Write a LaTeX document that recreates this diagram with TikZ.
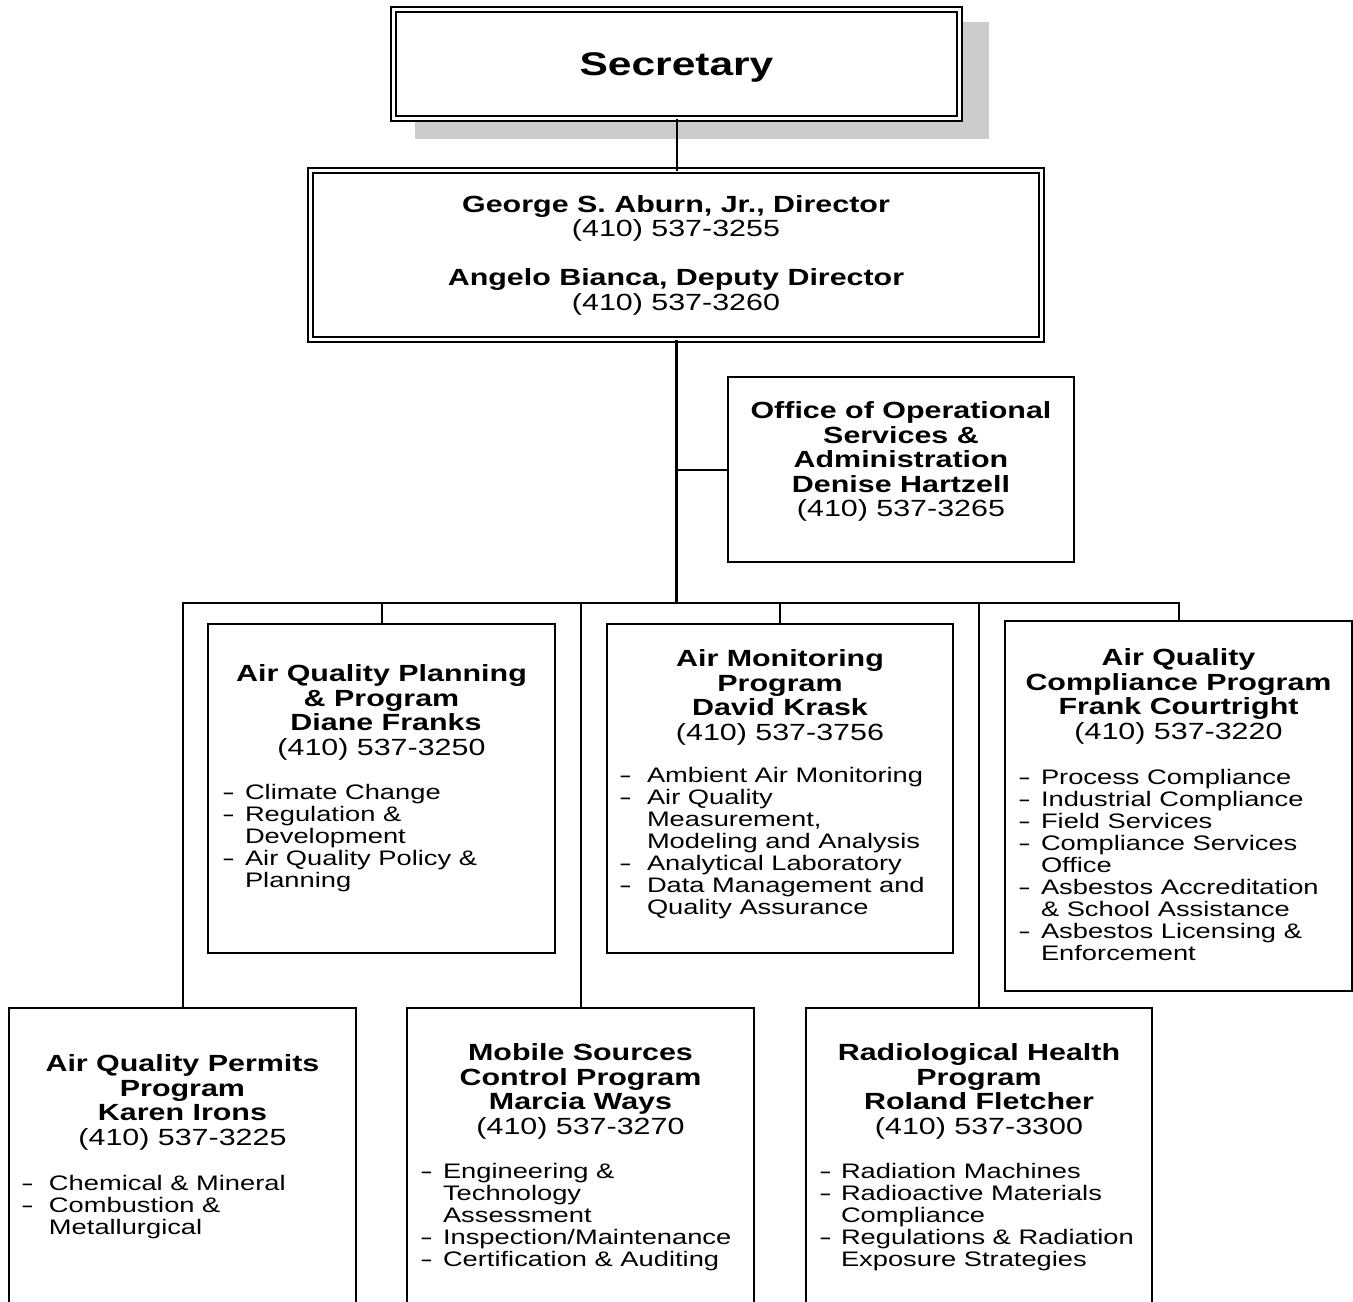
\documentclass[tikz,border=0pt]{standalone}
\usepackage{fontspec}
\setmainfont{Liberation Sans}[FakeStretch=1.3]
\newcommand{\bitem}[2]{\makebox[#1pt][l]{\scalebox{1.4}[1]{-}}#2}
\newcommand{\bcont}[2]{\hspace*{#1pt}#2}
\tikzset{
  box/.style={draw, line width=2pt, fill=white, inner sep=0pt, outer sep=0pt, anchor=north west},
  dbox/.style={draw, line width=1.5pt, double, double distance=3.5pt, fill=white, inner sep=0pt, outer sep=0pt, anchor=north west},
  head/.style={inner sep=0pt, outer sep=0pt, anchor=north, align=center, font=\fontsize{23.4}{24.5}\selectfont},
  blist/.style={inner sep=0pt, outer sep=0pt, anchor=north west, align=left, font=\fontsize{21}{22}\selectfont},
  conn/.style={line width=2pt},
  trunk/.style={line width=3pt},
  shadowfill/.style={fill=black!20},
}
\begin{document}
\begin{tikzpicture}[x=1pt, y=-1pt]
\useasboundingbox (0,0) rectangle (1353,1302);
\fill[white] (0,0) rectangle (1353,1302);
\clip (0,0) rectangle (1353,1302);

% shadow of the Secretary box
\fill[shadowfill] (415,22) rectangle (989,139);

% top boxes
\node[dbox, minimum width=566pt, minimum height=109pt, text depth=0pt,
      font=\bfseries\fontsize{32.7}{34}\selectfont] (sec) at (393.5,9.5) {Secretary};
\node[dbox, minimum width=731pt, minimum height=169pt, align=center,
      font=\fontsize{23.4}{24.5}\selectfont] (dir) at (310.5,170.5)
  {\textbf{George S. Aburn, Jr., Director}\\(410) 537-3255\\[24.5pt]\textbf{Angelo Bianca, Deputy Director}\\(410) 537-3260};

\node[box, minimum width=346pt, minimum height=185pt] (off) at (728,377) {};
\node[head] (offT) at (901,401.6)
  {\textbf{Office of Operational}\\\textbf{Services \&}\\\textbf{Administration}\\\textbf{Denise Hartzell}\\(410) 537-3265};

% second row
\node[box, minimum width=347pt, minimum height=329pt] (plan) at (208,624) {};
\node[head] (planT) at (381.5,664.6)
  {\textbf{Air Quality Planning}\\\textbf{\& Program}\\\hspace*{9pt}\textbf{Diane Franks}\\(410) 537-3250};
\node[blist] (planL) at (222,784.4)
  {\bitem{23}{Climate Change}\\\bitem{23}{Regulation \&}\\\bcont{23}{Development}\\\bitem{23}{Air Quality Policy \&}\\\bcont{23}{Planning}};

\node[box, minimum width=346pt, minimum height=329pt] (mon) at (607,624) {};
\node[head] (monT) at (780,649.6)
  {\textbf{Air Monitoring}\\\textbf{Program}\\\textbf{David Krask}\\(410) 537-3756};
\node[blist] (monL) at (619,767.4)
  {\bitem{28}{Ambient Air Monitoring}\\\bitem{28}{Air Quality}\\\bcont{28}{Measurement,}\\\bcont{28}{Modeling and Analysis}\\\bitem{28}{Analytical Laboratory}\\\bitem{28}{Data Management and}\\\bcont{28}{Quality Assurance}};

\node[box, minimum width=347pt, minimum height=370pt] (comp) at (1005,621) {};
\node[head] (compT) at (1178.5,648.6)
  {\textbf{Air Quality}\\\textbf{Compliance Program}\\\textbf{Frank Courtright}\\(410) 537-3220};
\node[blist] (compL) at (1018,769.4)
  {\bitem{23}{Process Compliance}\\\bitem{23}{Industrial Compliance}\\\bitem{23}{Field Services}\\\bitem{23}{Compliance Services}\\\bcont{23}{Office}\\\bitem{23}{Asbestos Accreditation}\\\bcont{23}{\& School Assistance}\\\bitem{23}{Asbestos Licensing \&}\\\bcont{23}{Enforcement}};

% third row
\node[box, minimum width=347pt, minimum height=320pt] (perm) at (9,1008) {};
\node[head] (permT) at (182.5,1054.6)
  {\textbf{Air Quality Permits}\\\textbf{Program}\\\textbf{Karen Irons}\\(410) 537-3225};
\node[blist] (permL) at (21,1175.4)
  {\bitem{28}{Chemical \& Mineral}\\\bitem{28}{Combustion \&}\\\bcont{28}{Metallurgical}};

\node[box, minimum width=347pt, minimum height=320pt] (mob) at (407,1008) {};
\node[head] (mobT) at (580.5,1043.6)
  {\textbf{Mobile Sources}\\\textbf{Control Program}\\\textbf{Marcia Ways}\\(410) 537-3270};
\node[blist] (mobL) at (420,1163.4)
  {\bitem{23}{Engineering \&}\\\bcont{23}{Technology}\\\bcont{23}{Assessment}\\\bitem{23}{Inspection/Maintenance}\\\bitem{23}{Certification \& Auditing}};

\node[box, minimum width=346pt, minimum height=320pt] (rad) at (806,1008) {};
\node[head] (radT) at (979,1043.6)
  {\textbf{Radiological Health}\\\textbf{Program}\\\textbf{Roland Fletcher}\\(410) 537-3300};
\node[blist] (radL) at (819,1163.4)
  {\bitem{22}{Radiation Machines}\\\bitem{22}{Radioactive Materials}\\\bcont{22}{Compliance}\\\bitem{22}{Regulations \& Radiation}\\\bcont{22}{Exposure Strategies}};

% connectors
\coordinate (bus) at (676,603);
\draw[conn] (sec.south) -- (sec.south |- dir.north);
\draw[trunk] (dir.south) -- (bus);
\draw[conn] (dir.south |- off.west) -- (off.west);
\draw[conn] (perm.north) -- (perm.north |- bus) -- (comp.north |- bus) -- (comp.north);
\draw[conn] (plan.north |- bus) -- (plan.north);
\draw[conn] (mob.north |- bus) -- (mob.north);
\draw[conn] (mon.north |- bus) -- (mon.north);
\draw[conn] (rad.north |- bus) -- (rad.north);
\end{tikzpicture}
\end{document}
